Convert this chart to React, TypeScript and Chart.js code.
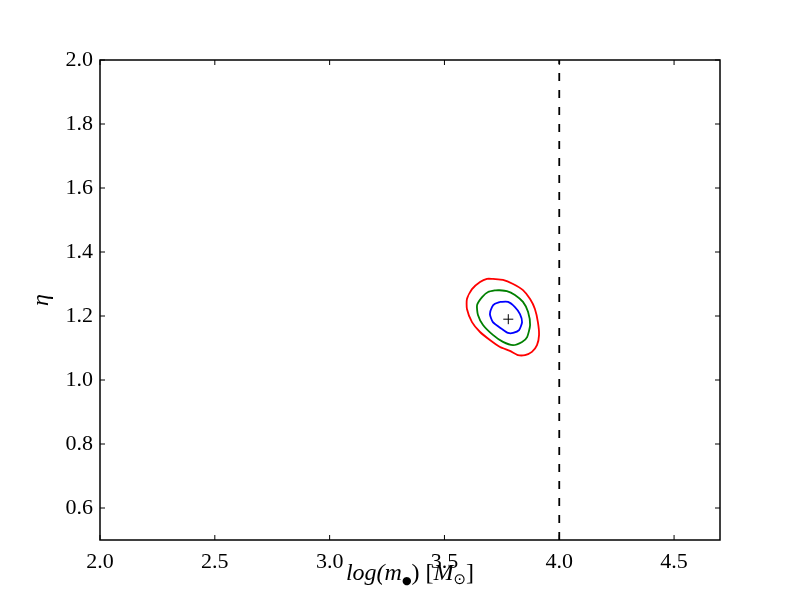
import React, { useEffect, useRef } from "react";
import { Chart, registerables } from "chart.js";
Chart.register(...registerables);

const xTicks = [2.0, 2.5, 3.0, 3.5, 4.0, 4.5];
const yTicks = [0.6, 0.8, 1.0, 1.2, 1.4, 1.6, 1.8, 2.0];
const xMin = 2.0;
const xMax = 4.7;
const yMin = 0.5;
const yMax = 2.0;

const redX = [3.711, 3.755, 3.799, 3.842, 3.873, 3.894, 3.907, 3.912, 3.903, 3.881, 3.851, 3.82, 3.785, 3.742, 3.698, 3.655, 3.62, 3.598, 3.598, 3.62, 3.655, 3.685, 3.711];
const redY = [1.316, 1.313, 1.3, 1.281, 1.253, 1.222, 1.181, 1.141, 1.109, 1.088, 1.078, 1.078, 1.091, 1.103, 1.125, 1.15, 1.181, 1.222, 1.253, 1.284, 1.306, 1.316, 1.316];

const greenX = [3.729, 3.772, 3.807, 3.842, 3.864, 3.873, 3.86, 3.838, 3.799, 3.755, 3.711, 3.668, 3.646, 3.642, 3.664, 3.69, 3.729];
const greenY = [1.281, 1.278, 1.266, 1.244, 1.213, 1.172, 1.134, 1.119, 1.109, 1.119, 1.141, 1.172, 1.203, 1.234, 1.259, 1.275, 1.281];

const blueX = [3.742, 3.777, 3.807, 3.829, 3.838, 3.825, 3.799, 3.777, 3.751, 3.711, 3.698, 3.707, 3.72, 3.742];
const blueY = [1.244, 1.244, 1.228, 1.206, 1.181, 1.156, 1.147, 1.147, 1.159, 1.181, 1.206, 1.228, 1.238, 1.244];

const bestX = [3.778];
const bestY = [1.19];

const limitX = [4.0, 4.0];
const limitY = [0.5, 2.0];

const zip = (xs: number[], ys: number[]) => xs.map((x, i) => ({ x, y: ys[i] }));

const FONT = "'Liberation Serif', 'DejaVu Serif', serif";

const framePlugin = {
  id: "frame",
  afterDatasetsDraw(chart: any) {
    const { ctx, chartArea: a, scales } = chart;
    ctx.save();
    ctx.strokeStyle = "#000";
    ctx.lineWidth = 1.5;
    ctx.strokeRect(a.left, a.top, a.right - a.left, a.bottom - a.top);
    ctx.lineWidth = 1;
    const L = 5;
    const seg = (x1: number, y1: number, x2: number, y2: number) => {
      ctx.beginPath();
      ctx.moveTo(x1, y1);
      ctx.lineTo(x2, y2);
      ctx.stroke();
    };
    for (const v of xTicks) {
      const px = scales.x.getPixelForValue(v);
      seg(px, a.bottom, px, a.bottom - L);
      seg(px, a.top, px, a.top + L);
    }
    for (const v of yTicks) {
      const py = scales.y.getPixelForValue(v);
      seg(a.left, py, a.left + L, py);
      seg(a.right, py, a.right - L, py);
    }

    // x axis label
    const parts = [
      { t: "log(m", f: `italic 24px ${FONT}`, dy: 0 },
      { t: "●", f: `11px 'DejaVu Sans'`, dy: 4 },
      { t: ") [", f: `24px ${FONT}`, dy: 0 },
      { t: "M", f: `italic 24px ${FONT}`, dy: 0 },
      { t: "⊙", f: `15px 'DejaVu Sans'`, dy: 4 },
      { t: "]", f: `24px ${FONT}`, dy: 0 },
    ];
    let total = 0;
    const widths = parts.map((p) => {
      ctx.font = p.f;
      const w = ctx.measureText(p.t).width;
      total += w;
      return w;
    });
    const cx = (a.left + a.right) / 2;
    let x = cx - total / 2;
    ctx.fillStyle = "#000";
    ctx.textBaseline = "alphabetic";
    ctx.textAlign = "left";
    parts.forEach((p, i) => {
      ctx.font = p.f;
      ctx.fillText(p.t, x, 580 + p.dy);
      x += widths[i];
    });

    // y axis label
    ctx.save();
    ctx.translate(48, (a.top + a.bottom) / 2);
    ctx.rotate(-Math.PI / 2);
    ctx.font = `italic 24px ${FONT}`;
    ctx.textAlign = "center";
    ctx.textBaseline = "alphabetic";
    ctx.fillText("η", 0, 0);
    ctx.restore();

    ctx.restore();
  },
};

export default function App() {
  const ref = useRef<HTMLCanvasElement>(null);
  useEffect(() => {
    if (!ref.current) return;
    const line = (data: any[], color: string) => ({
      data,
      showLine: true,
      borderColor: color,
      backgroundColor: color,
      borderWidth: 1.8,
      pointRadius: 0,
      tension: 0.2,
      fill: false,
    });
    const chart = new Chart(ref.current, {
      type: "scatter",
      data: {
        datasets: [
          line(zip(redX, redY), "#ff0000"),
          line(zip(greenX, greenY), "#008000"),
          line(zip(blueX, blueY), "#0000ff"),
          {
            data: zip(limitX, limitY),
            showLine: true,
            borderColor: "#000",
            borderWidth: 1.8,
            borderDash: [8, 9],
            pointRadius: 0,
            fill: false,
          },
          {
            data: zip(bestX, bestY),
            pointStyle: "cross",
            pointRadius: 5,
            borderColor: "#000",
            borderWidth: 1,
            backgroundColor: "#000",
          },
        ],
      },
      options: {
        animation: false,
        responsive: false,
        layout: { padding: { top: 60, right: 80, left: 0, bottom: 0 } },
        plugins: { legend: { display: false }, tooltip: { enabled: false } },
        scales: {
          x: {
            type: "linear",
            min: xMin,
            max: xMax,
            grid: { display: false, drawTicks: false },
            border: { display: false },
            afterBuildTicks: (s: any) => {
              s.ticks = xTicks.map((v) => ({ value: v }));
            },
            afterFit: (s: any) => {
              s.height = 60;
            },
            ticks: {
              padding: 9,
              color: "#000",
              font: { family: FONT, size: 22 },
              maxRotation: 0,
              callback: (v: any) => Number(v).toFixed(1),
            },
          },
          y: {
            type: "linear",
            min: yMin,
            max: yMax,
            grid: { display: false, drawTicks: false },
            border: { display: false },
            afterBuildTicks: (s: any) => {
              s.ticks = yTicks.map((v) => ({ value: v }));
            },
            afterFit: (s: any) => {
              s.width = 100;
            },
            ticks: {
              padding: 7,
              color: "#000",
              font: { family: FONT, size: 22 },
              callback: (v: any) => Number(v).toFixed(1),
            },
          },
        },
      },
      plugins: [framePlugin],
    } as any);
    return () => chart.destroy();
  }, []);
  return (
    <div style={{ position: "absolute", left: 0, top: 0, width: 800, height: 600, background: "#fff" }}>
      <canvas ref={ref} width={800} height={600} />
    </div>
  );
}
